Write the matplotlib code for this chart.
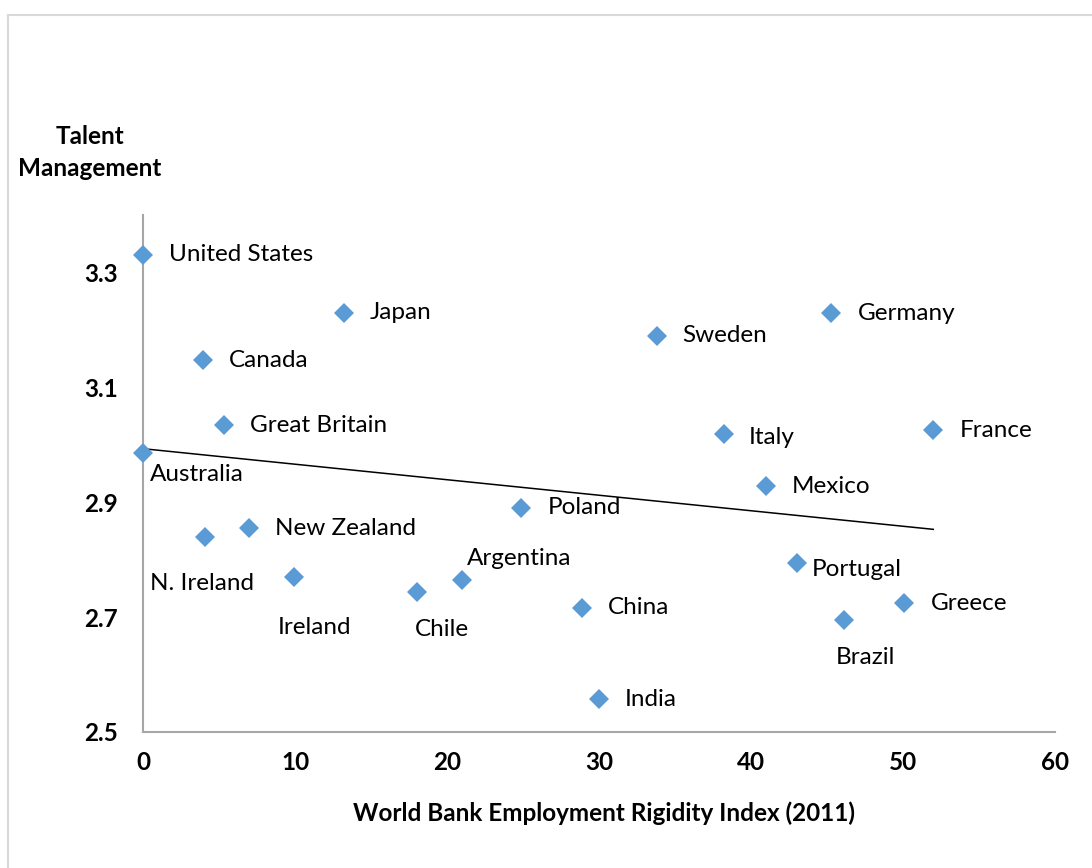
import matplotlib.pyplot as plt
from matplotlib.lines import Line2D
import numpy as np

plt.rcParams['font.family'] = ['Lato', 'DejaVu Sans']

countries = ['United States', 'Japan', 'Canada', 'Great Britain', 'Australia',
             'N. Ireland', 'New Zealand', 'Ireland', 'Chile', 'Argentina',
             'Poland', 'China', 'India', 'Sweden', 'Italy', 'Mexico',
             'Germany', 'France', 'Portugal', 'Greece', 'Brazil']
rigidity = [0, 13.2, 3.95, 5.3, 0,
            4.1, 7.0, 9.9, 18.0, 21.0,
            24.9, 28.9, 30.0, 33.8, 38.2, 41.0,
            45.3, 52.0, 43.0, 50.1, 46.1]
talent = [3.331, 3.230, 3.147, 3.034, 2.985,
          2.839, 2.855, 2.770, 2.743, 2.764,
          2.890, 2.716, 2.557, 3.190, 3.018, 2.928,
          3.229, 3.025, 2.794, 2.724, 2.695]

# label offsets in pixels (dx, dy)
right = (26, 0)
label_pos = {
    'Australia': (7, -21),
    'N. Ireland': (-55, -46),
    'Ireland': (-16, -51),
    'Chile': (-2, -37),
    'Argentina': (5, 22),
    'Brazil': (-8, -38),
    'Portugal': (15, -6),
    'Italy': (25, -3),
}

fig = plt.figure(figsize=[10.92, 8.68], dpi=100)
ax = fig.add_axes([0.131, 0.1567, 0.835, 0.5956])

ax.plot(rigidity, talent, linestyle='none', marker='D', markersize=10,
        color='#5B9BD5', markeredgewidth=0, zorder=3, clip_on=False)

# linear trendline
k, b = np.polyfit(rigidity, talent, 1)
xt = np.array([0, max(rigidity)])
ax.plot(xt, k * xt + b, color='black', linewidth=1.1, zorder=2)

for name, x, y in zip(countries, rigidity, talent):
    dx, dy = label_pos.get(name, right)
    ax.annotate(name, (x, y), xytext=(dx, dy), textcoords='offset pixels',
                ha='left', va='center', fontsize=17.5, color='black')

ax.set_xlim(0, 60)
ax.set_ylim(2.5, 3.4)
ax.set_xticks(range(0, 61, 10))
ax.set_yticks([2.5, 2.7, 2.9, 3.1, 3.3])
ax.set_yticklabels(['2.5', '2.7', '2.9', '3.1', '3.3'])
for s in ['top', 'right']:
    ax.spines[s].set_visible(False)
for s in ['left', 'bottom']:
    ax.spines[s].set_color('#A6A6A6')
    ax.spines[s].set_linewidth(1.5)
ax.tick_params(length=0, labelsize=17.5)
ax.tick_params(axis='x', pad=14)
ax.tick_params(axis='y', pad=18)
for lab in ax.get_xticklabels() + ax.get_yticklabels():
    lab.set_fontweight('bold')

fig.text(0.5535, 0.063, 'World Bank Employment Rigidity Index (2011)',
         ha='center', va='center', fontsize=17.5, fontweight='bold')
fig.text(0.0824, 0.824, 'Talent\nManagement', ha='center', va='center',
         fontsize=17.5, fontweight='bold', linespacing=1.45)

# outer chart frame
fig.add_artist(Line2D([0.0075, 0.0075], [0, 0.983], color='#D9D9D9', linewidth=1.5))
fig.add_artist(Line2D([0.0075, 1], [0.983, 0.983], color='#D9D9D9', linewidth=1.5))

fig.savefig('out.png', dpi=100)
